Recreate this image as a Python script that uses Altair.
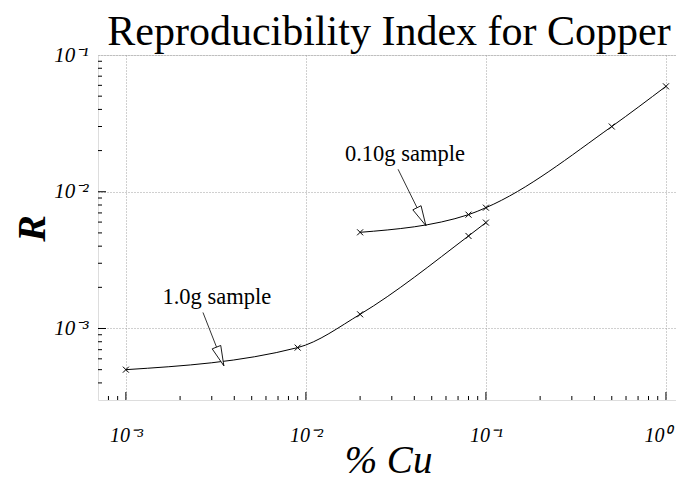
import altair as alt
import pandas as pd

# ---- data ----
pct_1g = [0.001, 0.009, 0.02, 0.08, 0.1]
r_1g = [5.0e-4, 7.25e-4, 1.27e-3, 4.75e-3, 5.95e-3]
pct_01g = [0.02, 0.08, 0.1, 0.5, 1.0]
r_01g = [5.05e-3, 6.8e-3, 7.65e-3, 3.0e-2, 5.9e-2]
series_names = ["1.0g sample", "0.10g sample"]

# annotations (data coordinates)
ann_text = ["1.0g sample", "0.10g sample"]
ann_text_x = [0.0032, 0.0355]
ann_text_y = [1.69e-3, 1.88e-2]
arrow_start_x = [0.00268, 0.0325]
arrow_start_y = [1.31e-3, 1.46e-2]
arrow_tip_x = [0.0035, 0.0464]
arrow_tip_y = [5.34e-4, 5.65e-3]
arrow_angle = [338.4, 333.4]

# axes
x_major = [0.001, 0.01, 0.1, 1.0]
x_labels = ["10⁻³", "10⁻²", "10⁻¹", "10⁰"]
y_major = [0.001, 0.01, 0.1]
y_labels = ["10⁻³", "10⁻²", "10⁻¹"]
x_minor = [8e-4, 9e-4] + [k * 10.0 ** e for e in (-3, -2, -1) for k in range(2, 10)]
y_minor = [k * 1e-4 for k in range(4, 10)] + [k * 10.0 ** e for e in (-3, -2) for k in range(2, 10)]
x_tick_major = [0.001, 0.01, 0.1, 1.0]
y_tick_major = [0.001, 0.01]

X_DOMAIN = [7e-4, 1.137]
Y_DOMAIN = [3e-4, 0.1]
W, H = 578, 345
SERIF = "Liberation Serif"


def label_expr(vals, labels):
    import math
    expr = "''"
    for v, l in zip(reversed(vals), reversed(labels)):
        e = int(round(math.log10(v)))
        expr = f"round(log(datum.value)/LN10) == {e} ? '{l}' : ({expr})"
    return expr


rows = []
for x, y in zip(pct_1g, r_1g):
    rows.append({"series": series_names[0], "pct": x, "r": y})
for x, y in zip(pct_01g, r_01g):
    rows.append({"series": series_names[1], "pct": x, "r": y})
df = pd.DataFrame(rows)

ann = pd.DataFrame({
    "label": ann_text, "tx": ann_text_x, "ty": ann_text_y,
    "sx": arrow_start_x, "sy": arrow_start_y,
    "px": arrow_tip_x, "py": arrow_tip_y, "angle": arrow_angle,
})

xscale = alt.Scale(type="log", domain=X_DOMAIN, nice=False)
yscale = alt.Scale(type="log", domain=Y_DOMAIN, nice=False)

xaxis = alt.Axis(
    values=x_major, labelExpr=label_expr(x_major, x_labels), ticks=False, domain=False,
    grid=True, gridColor="#a0a0a0", gridDash=[1, 2], gridWidth=1,
    labelFont=SERIF, labelFontStyle="italic", labelFontSize=20, labelColor="black",
    labelPadding=25, labelFlush=False,
    labelAlign={"condition": {"test": "datum.value >= 1", "value": "right"}, "value": "center"},
    labelOffset={"condition": {"test": "datum.value >= 1", "value": 5}, "value": 0},
    title="% Cu", titleFont=SERIF, titleFontStyle="italic", titleFontWeight="normal",
    titleFontSize=39, titleColor="black", titleX=290, titleY=60,
    titleAlign="center", titleBaseline="middle",
)
yaxis = alt.Axis(
    values=y_major, labelExpr=label_expr(y_major, y_labels), ticks=False, domain=False,
    grid=True, gridColor="#a0a0a0", gridDash=[1, 2], gridWidth=1,
    labelFont=SERIF, labelFontStyle="italic", labelFontSize=21, labelColor="black",
    labelPadding=10, labelFlush=False,
    title="R", titleFont=SERIF, titleFontStyle="italic", titleFontWeight="bold",
    titleFontSize=40, titleColor="black", titleX=-66, titleY=173,
    titleAlign="center", titleBaseline="middle", titleAngle=270,
)

base = alt.Chart(df)

lines = base.mark_line(interpolate="monotone", color="black", strokeWidth=1).encode(
    x=alt.X("pct:Q", scale=xscale, axis=xaxis),
    y=alt.Y("r:Q", scale=yscale, axis=yaxis),
    detail="series:N",
)

XSHAPE = "M-1,-1L1,1M1,-1L-1,1"
points = base.mark_point(shape=XSHAPE, size=36, strokeWidth=1, color="black", filled=False, opacity=1).encode(
    x="pct:Q", y="r:Q",
)

def xticks(vals, length):
    return alt.Chart(pd.DataFrame({"v": vals})).mark_rule(color="black", strokeWidth=1).encode(
        x="v:Q", y=alt.value(H), y2=alt.value(H - length))

def yticks(vals, length):
    return alt.Chart(pd.DataFrame({"v": vals})).mark_rule(color="black", strokeWidth=1).encode(
        y="v:Q", x=alt.value(0), x2=alt.value(length))

achart = alt.Chart(ann)
arrow_lines = achart.mark_rule(color="black", strokeWidth=0.8).encode(
    x="sx:Q", y="sy:Q", x2="px:Q", y2="py:Q")
arrow_heads = achart.mark_point(
    shape="M0,0L0.23,-1L-0.23,-1Z", size=1600, filled=True, fill="white",
    stroke="black", strokeWidth=0.8, opacity=1,
).encode(x="px:Q", y="py:Q", angle=alt.Angle("angle:Q", scale=None))
labels = achart.mark_text(font=SERIF, fontSize=22.5, color="black", baseline="middle").encode(
    x="tx:Q", y="ty:Q", text="label:N")

chart = alt.layer(
    lines, points,
    xticks(x_minor, 4), xticks(x_tick_major, 8),
    yticks(y_minor, 4), yticks(y_tick_major, 8),
    arrow_lines, arrow_heads, labels,
).properties(
    width=W, height=H,
    title=alt.Title("Reproducibility Index for Copper", font=SERIF, fontSize=42,
                    fontWeight="normal", color="black", anchor="middle", dx=2, dy=16, offset=6),
    autosize=alt.AutoSizeParams(type="none"),
    padding={"left": 90, "top": 47, "right": 0, "bottom": 80},
).configure_view(stroke="black", strokeWidth=1).configure(background="white")

chart.save("out.html", embed_options={"renderer": "svg", "actions": False})
